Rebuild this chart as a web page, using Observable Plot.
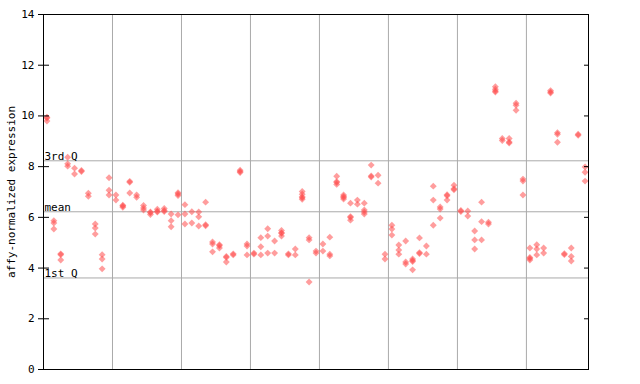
<!DOCTYPE html>
<html>
<head>
<meta charset="utf-8">
<script src="https://cdn.jsdelivr.net/npm/d3@7"></script>
<script src="https://cdn.jsdelivr.net/npm/@observablehq/plot@0.6"></script>
<style>
html,body{margin:0;padding:0;background:#fff;}
svg{font-family:"DejaVu Sans Mono",monospace;}
</style>
</head>
<body>
<div id="chart"></div>
<script>
// expression values per sample position (replicates)
const sampleValues = [
  [9.95,9.92,9.8],[5.87,5.78,5.54],[4.56,4.53,4.32],[8.37,8.11,8.02],[7.94,7.71],
  [7.85,7.81],[6.95,6.83],[5.74,5.58,5.34],[4.53,4.36,3.97],[7.56,7.07,6.88],
  [6.88,6.68],[6.48,6.45,6.40],[7.42,7.38,6.96],[6.88,6.79],[6.47,6.37,6.29],
  [6.21,6.18,6.11],[6.32,6.24,6.21],[6.35,6.27,6.23],[6.13,5.87,5.63],[6.97,6.92,6.86,6.10],
  [6.50,6.13,5.74],[6.22,5.78],[6.21,6.02,5.66],[6.60,5.71,5.67],[5.03,4.95,4.64],
  [4.92,4.88,4.79],[4.46,4.42,4.24],[4.56,4.52],[7.86,7.81,7.77],[4.95,4.87,4.52],
  [4.59,4.55],[5.20,4.84,4.52],[5.55,5.26,4.59],[5.07,4.59],[5.48,5.39,5.37,5.26],
  [4.56,4.52],[4.75,4.52],[7.02,6.91,6.81,6.77,6.71],[5.20,5.11,3.45],[4.67,4.59],
  [4.95,4.67],[5.22,4.55,4.48],[7.62,7.41,7.37,7.30],[6.88,6.82,6.78,6.72],[6.56,6.03,5.99,5.89],
  [6.68,6.52],[6.56,6.29,6.21,6.13],[8.06,7.63,7.59],[7.66,7.35],[4.55,4.36],
  [5.69,5.54,5.30],[4.91,4.71,4.55],[5.07,4.24,4.16],[4.36,4.30,4.26,3.93],[5.19,4.61,4.57],
  [4.87,4.55],[7.23,6.68,5.69],[6.41,6.33,5.97],[6.89,6.85,6.68],[7.27,7.13,7.09],
  [6.27,6.23],[6.25,6.05],[5.46,5.11,4.75],[6.60,5.83,5.11],[5.81,5.74],
  [11.15,11.05,10.98,10.94],[9.11,9.03],[9.11,8.97,8.93],[10.50,10.42,10.22],[7.51,7.43,6.88],
  [4.79,4.42,4.38,4.32],[4.92,4.75,4.52],[4.79,4.59],[11.0,10.94,10.90],[9.34,9.28,8.96],
  [4.57,4.53],[4.79,4.46,4.28],[9.28,9.24],[7.99,7.78,7.43]
];
const groupBreaks = [10,20,30,40,50,60,70];
const quartileLabels = ["3rd Q","mean","1st Q"];
const quartileValues = [8.23,6.22,3.61];
const yTicks = [0,2,4,6,8,10,12,14];
const yLabel = "affy-normalized expression";

const points = sampleValues.flatMap((vals,i)=>vals.map(v=>({i:i+0.5,v})));
const lines = quartileLabels.map((label,k)=>({label,v:quartileValues[k]}));

const chart = Plot.plot({
  width:640, height:384,
  marginLeft:43, marginRight:52, marginTop:14, marginBottom:15,
  style:{fontFamily:"DejaVu Sans Mono, monospace", fontSize:"11px", background:"#fff"},
  x:{domain:[0,sampleValues.length], axis:null},
  y:{domain:[0,14], axis:null},
  marks:[
    Plot.ruleX(groupBreaks,{stroke:"#aaaaaa", strokeWidth:1}),
    Plot.ruleY(lines,{y:"v", stroke:"#aaaaaa", strokeWidth:1}),
    Plot.text(lines,{x:0, y:"v", text:"label", textAnchor:"start", lineAnchor:"bottom", dx:1, dy:-0.5, fill:"#000", fontSize:11}),
    Plot.dot(points,{x:"i", y:"v", symbol:"diamond2", r:3.1, fill:"#ff4d4d", fillOpacity:0.55, stroke:"none"}),
    Plot.axisY({anchor:"left", ticks:yTicks, tickSize:5, tickPadding:4, tickFormat:d=>String(d), label:null, fontSize:11}),
    Plot.axisY({anchor:"left", ticks:yTicks, tickSize:-6, tickFormat:()=>"", label:null}),
    Plot.axisY({anchor:"right", ticks:yTicks, tickSize:-5, tickFormat:()=>"", label:null}),
    Plot.text([yLabel],{frameAnchor:"left", text:d=>d, rotate:-90, dx:-32, textAnchor:"middle", fill:"#000", fontSize:11}),
    Plot.frame({stroke:"#000", strokeWidth:1})
  ]
});
document.getElementById("chart").appendChild(chart);
</script>
</body>
</html>
